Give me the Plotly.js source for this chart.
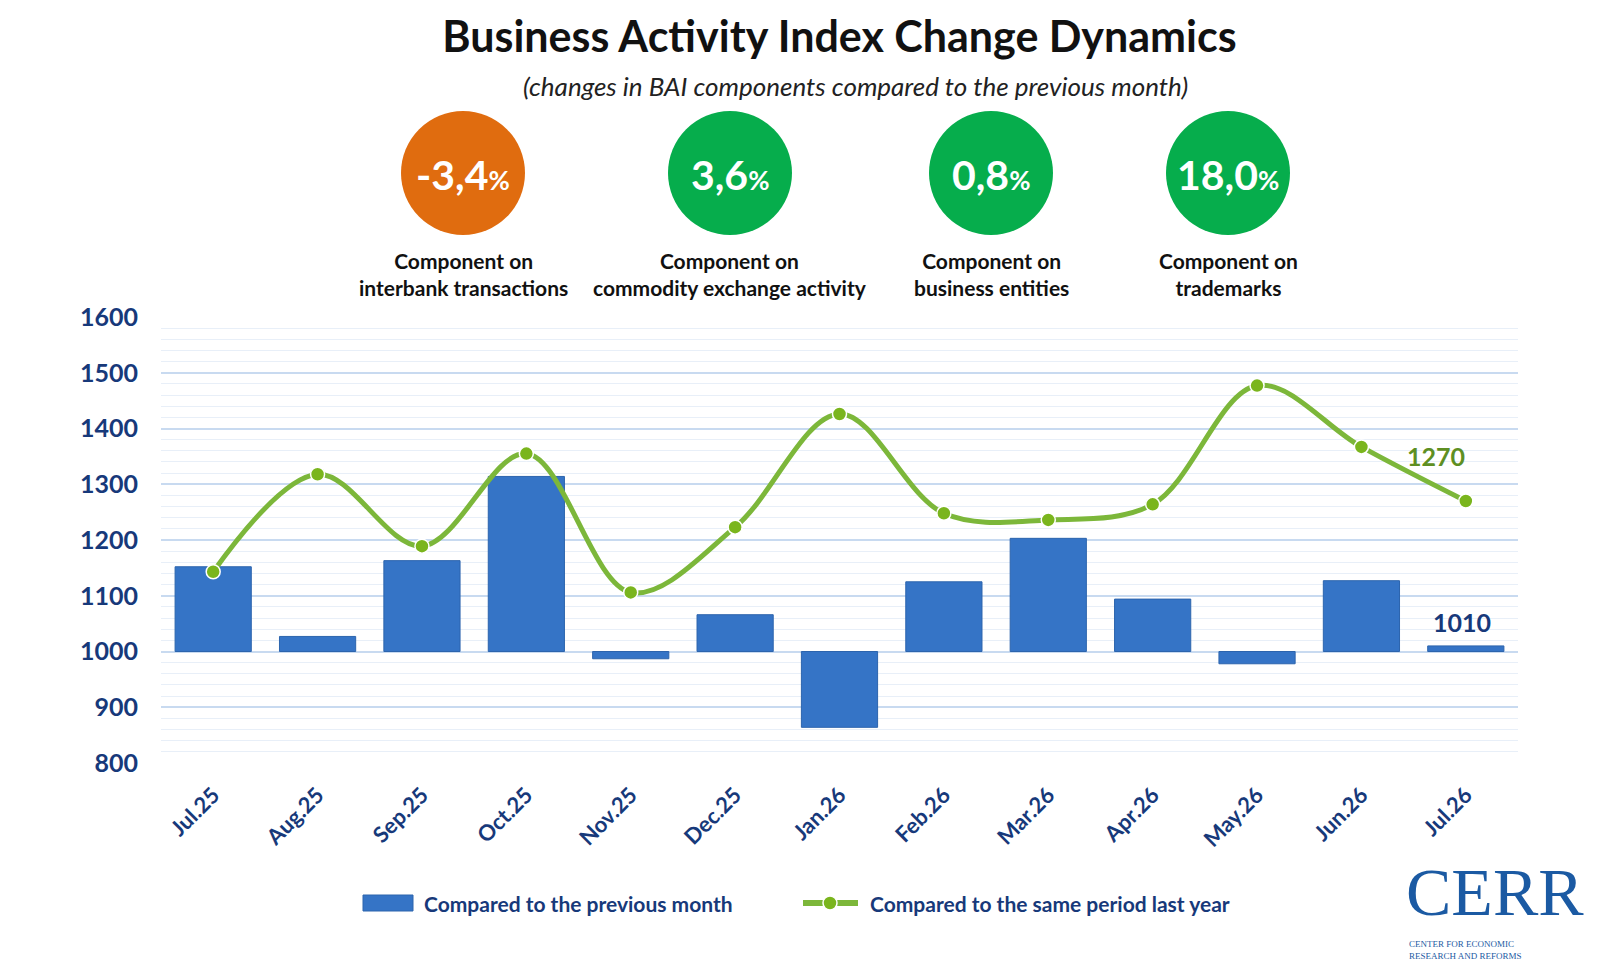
<!DOCTYPE html>
<html>
<head>
<meta charset="utf-8">
<script src="https://cdn.plot.ly/plotly-3.0.1.min.js"></script>
<style>
  html, body { margin: 0; padding: 0; background: #ffffff; }
  #chart { width: 1619px; height: 971px; }
</style>
</head>
<body>
<div id="chart"></div>
<script>
// Months on the x axis
var months = ["Jul.25", "Aug.25", "Sep.25", "Oct.25", "Nov.25", "Dec.25", "Jan.26",
  "Feb.26", "Mar.26", "Apr.26", "May.26", "Jun.26", "Jul.26"];

// Index compared to the previous month (bars, base 1000)
var prevMonth = [1152, 1027, 1163, 1314, 987, 1066, 864, 1125, 1203, 1094, 978, 1127, 1010];

// Index compared to the same period last year (line)
var lastYear = [1143, 1318, 1189, 1355, 1106, 1223, 1426, 1248, 1236, 1264, 1477, 1367, 1270];

// Component changes shown in the circles
var compValues = ["-3,4", "3,6", "0,8", "18,0"];
var compLabels = ["Component on<br>interbank transactions",
  "Component on<br>commodity exchange activity",
  "Component on<br>business entities",
  "Component on<br>trademarks"];

var seriesNames = ["Compared to the previous month", "Compared to the same period last year"];

var BASE = 1000;
var navy = "#17397a";
var barBlue = "#3574c6";
var lineGreen = "#7cb73a";
var font = "Lato, 'Open Sans', sans-serif";

// Bars are drawn from the 1000 base line
var barY = prevMonth.map(function (v) { return v - BASE; });

var bars = {
  x: months,
  y: barY,
  base: BASE,
  type: "bar",
  name: seriesNames[0],
  marker: { color: barBlue, line: { color: "#2c64ad", width: 1 } },
  hovertemplate: "%{x}: %{customdata}<extra></extra>",
  customdata: prevMonth
};

var line = {
  x: months,
  y: lastYear,
  type: "scatter",
  mode: "lines+markers",
  name: seriesNames[1],
  line: { color: lineGreen, width: 5, shape: "spline", smoothing: 1 },
  marker: { color: "#7ab51d", size: 14, line: { color: "#ffffff", width: 1.5 } }
};

// pixel -> paper helpers
var plotL = 161, plotR = 1518, plotT = 317, plotB = 763;
function px2paperX(px) { return (px - plotL) / (plotR - plotL); }
function px2paperY(py) { return (plotB - py) / (plotB - plotT); }

// Circles above the plot
var circleX = [463, 730, 991, 1228];
var circleColors = ["#e06c0f", "#06ad4c", "#06ad4c", "#06ad4c"];

var shapes = [];
var annotations = [];
circleX.forEach(function (cx, i) {
  shapes.push({
    type: "circle", xref: "paper", yref: "paper",
    xsizemode: "pixel", ysizemode: "pixel",
    xanchor: px2paperX(cx), yanchor: px2paperY(173),
    x0: -62, x1: 62, y0: -62, y1: 62,
    fillcolor: circleColors[i], line: { width: 0 }, layer: "above"
  });
  annotations.push({
    xref: "paper", yref: "paper", x: px2paperX(cx), y: px2paperY(174),
    text: "<b>" + compValues[i] + "<span style='font-size:26px'>%</span></b>",
    showarrow: false, xanchor: "center", yanchor: "middle",
    font: { family: font, size: 41, color: "#ffffff" }
  });
  annotations.push({
    xref: "paper", yref: "paper", x: px2paperX(cx), y: px2paperY(274),
    text: "<b>" + compLabels[i] + "</b>",
    showarrow: false, xanchor: "center", yanchor: "middle",
    font: { family: font, size: 21, color: "#111111" }
  });
});

// Subtitle
annotations.push({
  xref: "paper", yref: "paper", x: px2paperX(855), y: px2paperY(86),
  text: "<i>(changes in BAI components compared to the previous month)</i>",
  showarrow: false, xanchor: "center", yanchor: "middle",
  font: { family: font, size: 26, color: "#222222" }
});

// Last values
annotations.push({
  x: months[12], y: 1351, text: "<b>1270</b>", showarrow: false,
  xanchor: "center", yanchor: "middle", xshift: -30,
  font: { family: font, size: 25, color: "#5e8f22" }
});
annotations.push({
  x: months[12], y: 1053, text: "<b>1010</b>", showarrow: false,
  xanchor: "center", yanchor: "middle", xshift: -4,
  font: { family: font, size: 25, color: navy }
});

// Legend drawn by hand so the keys have the reference's size
var legY = px2paperY(903);
shapes.push({
  type: "rect", xref: "paper", yref: "paper",
  x0: px2paperX(363), x1: px2paperX(413), y0: px2paperY(911), y1: px2paperY(895),
  fillcolor: barBlue, line: { color: "#2c64ad", width: 1 }
});
annotations.push({
  xref: "paper", yref: "paper", x: px2paperX(422), y: legY,
  text: "<b>" + seriesNames[0] + "</b>", showarrow: false,
  xanchor: "left", yanchor: "middle",
  font: { family: font, size: 21, color: navy }
});
shapes.push({
  type: "line", xref: "paper", yref: "paper",
  x0: px2paperX(803), x1: px2paperX(858), y0: legY, y1: legY,
  line: { color: lineGreen, width: 6 }
});
shapes.push({
  type: "circle", xref: "paper", yref: "paper",
  xsizemode: "pixel", ysizemode: "pixel",
  xanchor: px2paperX(830), yanchor: legY,
  x0: -7, x1: 7, y0: -7, y1: 7,
  fillcolor: "#7ab51d", line: { color: "#ffffff", width: 1.5 }
});
annotations.push({
  xref: "paper", yref: "paper", x: px2paperX(868), y: legY,
  text: "<b>" + seriesNames[1] + "</b>", showarrow: false,
  xanchor: "left", yanchor: "middle",
  font: { family: font, size: 21, color: navy }
});

// CERR mark
annotations.push({
  xref: "paper", yref: "paper", x: px2paperX(1404), y: px2paperY(892),
  text: "CERR", showarrow: false, xanchor: "left", yanchor: "middle",
  font: { family: "'Liberation Serif', serif", size: 68, color: "#1b5aa3" }
});
annotations.push({
  xref: "paper", yref: "paper", x: px2paperX(1407), y: px2paperY(950),
  text: "CENTER FOR ECONOMIC<br>RESEARCH AND REFORMS", showarrow: false,
  xanchor: "left", yanchor: "middle", align: "left",
  font: { family: "'Liberation Serif', serif", size: 9, color: "#1b5aa3" }
});

var layout = {
  width: 1619,
  height: 971,
  margin: { l: plotL, r: 1619 - plotR, t: plotT, b: 971 - plotB },
  paper_bgcolor: "#ffffff",
  plot_bgcolor: "#ffffff",
  title: {
    text: "<b>Business Activity Index Change Dynamics</b>",
    font: { family: font, size: 43, color: "#111111" },
    xref: "paper", x: 0.5, y: 0.962, yanchor: "middle"
  },
  bargap: 0.27,
  showlegend: false,
  xaxis: {
    type: "category",
    range: [-0.5, 12.5],
    tickangle: -45,
    tickfont: { family: font, size: 22, color: navy, weight: "bold" },
    ticklabelstandoff: 14,
    showgrid: false,
    zeroline: false,
    showline: false
  },
  yaxis: {
    range: [800, 1600],
    dtick: 100,
    tick0: 800,
    tickfont: { family: font, size: 25, color: navy, weight: "bold" },
    ticklabelstandoff: 22,
    gridcolor: "#c8daf0",
    gridwidth: 1.5,
    zeroline: false,
    showline: false,
    minor: { dtick: 20, showgrid: true, gridcolor: "#e8eff8", gridwidth: 1 }
  },
  shapes: shapes,
  annotations: annotations
};

Plotly.newPlot("chart", [bars, line], layout, { displayModeBar: false });
</script>
</body>
</html>
